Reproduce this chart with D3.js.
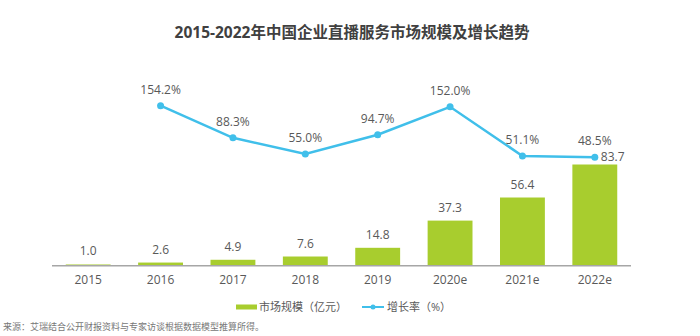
<!DOCTYPE html>
<html>
<head>
<meta charset="utf-8">
<script src="https://cdn.jsdelivr.net/npm/d3@7"></script>
<style>
  body { margin: 0; background: #fff; }
  svg text { font-family: "Open Sans", "Noto Sans CJK SC", sans-serif; }
</style>
</head>
<body>
<svg id="chart" width="700" height="336"></svg>
<script>
const years = ["2015", "2016", "2017", "2018", "2019", "2020e", "2021e", "2022e"];
const marketSize = [1.0, 2.6, 4.9, 7.6, 14.8, 37.3, 56.4, 83.7]; // 亿元
const growthRate = [null, 154.2, 88.3, 55.0, 94.7, 152.0, 51.1, 48.5]; // %

const barColor = "#a8cd2e";
const lineColor = "#40bfea";
const textColor = "#595959";

const svg = d3.select("#chart");

// title
svg.append("text")
    .attr("x", 352)
    .attr("y", 38)
    .attr("text-anchor", "middle")
    .style("font-size", "15.5px")
    .style("font-weight", "bold")
    .style("fill", "#404040")
    .text("2015-2022年中国企业直播服务市场规模及增长趋势");

const x = d3.scaleBand()
    .domain(years)
    .range([52, 631])
    .paddingInner(0.38)
    .paddingOuter(0.19);

const yBar = d3.scaleLinear()
    .domain([0, 83.7])
    .range([265.7, 164.5]);

const yLine = d3.scaleLinear()
    .domain([0, 160])
    .range([180.8, 102.9]);

// bars
svg.selectAll("rect.bar")
    .data(marketSize)
    .enter()
    .append("rect")
    .attr("class", "bar")
    .attr("x", (d, i) => x(years[i]))
    .attr("y", d => yBar(d))
    .attr("width", x.bandwidth())
    .attr("height", d => yBar(0) - yBar(d))
    .attr("fill", barColor);

// bar value labels (last one sits right of the line point)
svg.selectAll("text.value")
    .data(marketSize)
    .enter()
    .append("text")
    .attr("class", "value")
    .attr("x", (d, i) => i === years.length - 1 ? x(years[i]) + x.bandwidth() / 2 + 6 : x(years[i]) + x.bandwidth() / 2)
    .attr("y", (d, i) => i === years.length - 1 ? yLine(growthRate[i]) + 4 : yBar(d) - 9)
    .attr("text-anchor", (d, i) => i === years.length - 1 ? "start" : "middle")
    .style("font-size", "12px")
    .style("fill", textColor)
    .text(d => d.toFixed(1));

// x axis
const xAxis = svg.append("g")
    .attr("transform", "translate(0,265.7)")
    .call(d3.axisBottom(x).tickSize(0).tickPadding(10));
xAxis.select(".domain").attr("stroke", "#a6a6a6").attr("stroke-width", 1.5).attr("d", "M52,0H631");
xAxis.selectAll("text")
    .style("font-size", "12px")
    .style("fill", textColor)
    .style("font-family", "'Open Sans', sans-serif");

// growth line
const linePts = growthRate.map((v, i) => ({ year: years[i], v })).filter(d => d.v !== null);
const line = d3.line()
    .x(d => x(d.year) + x.bandwidth() / 2)
    .y(d => yLine(d.v));

svg.append("path")
    .datum(linePts)
    .attr("d", line)
    .attr("fill", "none")
    .attr("stroke", lineColor)
    .attr("stroke-width", 2.5);

svg.selectAll("circle.pt")
    .data(linePts)
    .enter()
    .append("circle")
    .attr("class", "pt")
    .attr("cx", d => x(d.year) + x.bandwidth() / 2)
    .attr("cy", d => yLine(d.v))
    .attr("r", 3.5)
    .attr("fill", lineColor);

svg.selectAll("text.rate")
    .data(linePts)
    .enter()
    .append("text")
    .attr("class", "rate")
    .attr("x", d => x(d.year) + x.bandwidth() / 2)
    .attr("y", d => yLine(d.v) - 12)
    .attr("text-anchor", "middle")
    .style("font-size", "12px")
    .style("fill", textColor)
    .text(d => d.v.toFixed(1) + "%");

// legend
const legend = svg.append("g").attr("transform", "translate(0,307)");
legend.append("rect")
    .attr("x", 236).attr("y", -2.5)
    .attr("width", 21).attr("height", 5)
    .attr("fill", barColor);
legend.append("text")
    .attr("x", 259).attr("y", 4)
    .style("font-size", "11px")
    .style("fill", textColor)
    .text("市场规模（亿元）");
legend.append("line")
    .attr("x1", 362).attr("x2", 384)
    .attr("y1", 0).attr("y2", 0)
    .attr("stroke", lineColor).attr("stroke-width", 2);
legend.append("circle")
    .attr("cx", 373).attr("cy", 0).attr("r", 2.5)
    .attr("fill", lineColor);
legend.append("text")
    .attr("x", 387).attr("y", 4)
    .style("font-size", "11px")
    .style("fill", textColor)
    .text("增长率（%）");

// source note
svg.append("text")
    .attr("x", 3)
    .attr("y", 330)
    .style("font-size", "9px")
    .style("fill", "#777")
    .text("来源：艾瑞结合公开财报资料与专家访谈根据数据模型推算所得。");
</script>
</body>
</html>
